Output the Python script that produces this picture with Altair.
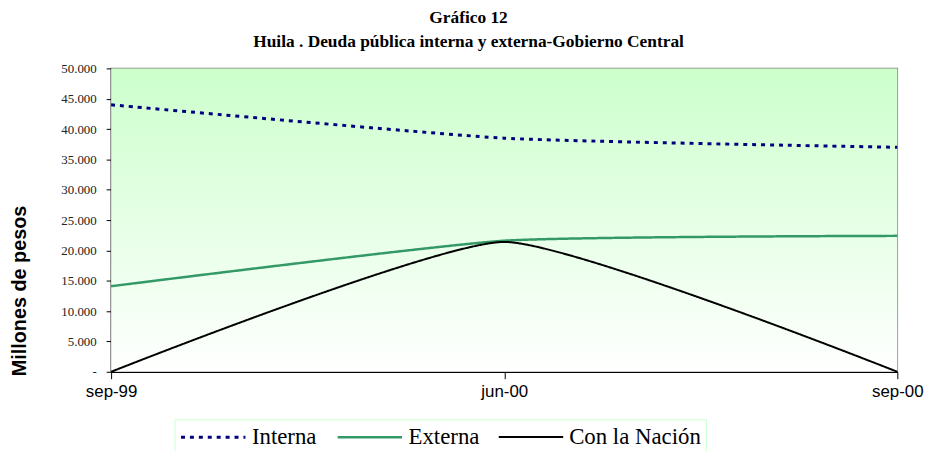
import altair as alt
import pandas as pd

periodos = ["sep-99", "jun-00", "sep-00"]
series = ["Interna", "Externa", "Con la Nación"]
interna = [44000, 38500, 37000]
externa = [14100, 21600, 22400]
nacion = [0, 21400, 0]
y_ticks = list(range(0, 50001, 5000))

colores = ["#000080", "#339966", "#000000"]
dashes = [[4, 5], [1, 0], [1, 0]]
grosores = [3.0, 2.0, 1.0]

rows = []
for s, vals in zip(series, [interna, externa, nacion]):
    for p, v in zip(periodos, vals):
        rows.append({"periodo": p, "serie": s, "valor": v})
df = pd.DataFrame(rows)

W, H = 793, 306

bg = alt.Chart(pd.DataFrame({"a": [0]})).mark_rect(
    color=alt.Gradient(
        gradient="linear",
        stops=[alt.GradientStop(color="#ccffcc", offset=0),
               alt.GradientStop(color="#ffffff", offset=1)],
        x1=0, x2=0, y1=0, y2=1,
    )
).encode(x=alt.value(0), x2=alt.value(W), y=alt.value(0), y2=alt.value(H))

lines = alt.Chart(df).mark_line(interpolate="cardinal", tension=0.5).encode(
    x=alt.X("periodo:N", sort=periodos,
            scale=alt.Scale(type="point", padding=0),
            axis=alt.Axis(title=None, labelAngle=0, labelFont="Liberation Sans",
                          labelFontSize=17, labelColor="#000", tickSize=7,
                          labelPadding=5, domainColor="#000", tickColor="#000",
                          domainWidth=1.5)),
    y=alt.Y("valor:Q", scale=alt.Scale(domain=[0, 50000], nice=False),
            axis=alt.Axis(values=y_ticks, grid=False, tickSize=5, labelPadding=10,
                          labelFont="Liberation Serif", labelFontSize=13,
                          labelColor="#222", domainColor="#000", tickColor="#000",
                          domainWidth=1.5,
                          labelExpr="datum.value == 0 ? '-' : replace(format(datum.value, ',.0f'), ',', '.')",
                          title="Millones de pesos", titleFont="Liberation Sans",
                          titleFontSize=20, titleFontWeight="bold", titleColor="#000",
                          titleX=-82, titleY=224, titleAngle=-90,
                          titleAlign="center", titleBaseline="bottom")),
    color=alt.Color("serie:O", scale=alt.Scale(domain=series, range=colores),
                    legend=alt.Legend(title=None)),
    strokeDash=alt.StrokeDash("serie:O", scale=alt.Scale(domain=series, range=dashes),
                              legend=alt.Legend(title=None)),
    strokeWidth=alt.StrokeWidth("serie:O", scale=alt.Scale(domain=series, range=grosores),
                                legend=alt.Legend(title=None)),
)

chart = alt.layer(bg, lines).properties(
    width=W, height=H,
    autosize=alt.AutoSizeParams(type="none"),
    padding={"left": 104, "top": 59, "right": 38, "bottom": 78},
    title=alt.TitleParams(
        text=["Gráfico 12", "Huila . Deuda  pública  interna y externa-Gobierno Central"],
        font="Liberation Serif", fontSize=17.5, fontWeight="bold", color="#000",
        anchor="middle", frame="group", dx=-36, offset=12, lineHeight=24,
    ),
).configure_view(stroke="#808080", strokeWidth=1.5).configure_legend(
    orient="none", legendX=64, legendY=354, direction="horizontal",
    labelFont="Liberation Serif", labelFontSize=23, labelColor="#000",
    symbolType="M-1,0H4.65", symbolSize=529, labelOffset=47, columnPadding=15,
    fillColor="#ffffff", strokeColor="#ccffcc", padding=5,
)

chart.save("out.html", embed_options={"renderer": "svg", "actions": False})
